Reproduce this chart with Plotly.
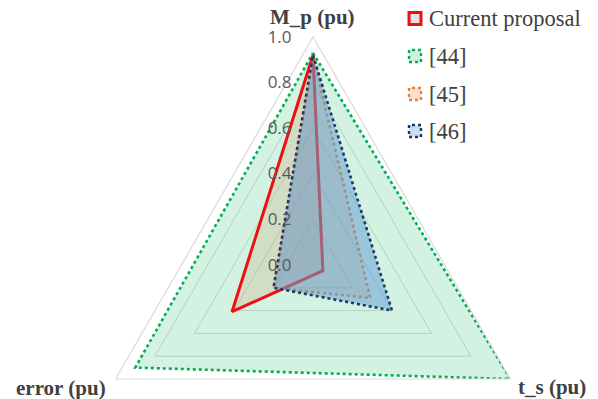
import plotly.graph_objects as go

# Axes of the radar chart (clockwise from the top)
axes = ["M_p (pu)", "t_s (pu)", "error (pu)"]

# Normalised performance of each method on each axis
series_names = ["Current proposal", "[44]", "[45]", "[46]"]
current_proposal = [0.92, 0.05, 0.41]
ref_44 = [0.93, 1.00, 0.90]
ref_45 = [0.92, 0.29, 0.20]
ref_46 = [0.92, 0.40, 0.20]

radial_ticks = [0.0, 0.2, 0.4, 0.6, 0.8, 1.0]

W, H = 598, 520


def xp(x):
    return x / W


def yp(y):
    return 1 - y / H


styles = {
    "Current proposal": dict(color="rgb(238,16,16)", width=3, dash="solid", fill="rgba(205,160,120,0.25)"),
    "[44]": dict(color="#00b050", width=2.6, dash="dot", fill="rgba(0,176,80,0.17)"),
    "[45]": dict(color="#e57e3e", width=2.6, dash="dot", fill="rgba(237,125,49,0.18)"),
    "[46]": dict(color="#1f3864", width=2.6, dash="dot", fill="rgba(91,155,213,0.5)"),
}

values = dict(zip(series_names, [current_proposal, ref_44, ref_45, ref_46]))

# Drawing order: the wide [44] area sits underneath the others
draw_order = ["[44]", "Current proposal", "[45]", "[46]"]

fig = go.Figure()
for name in draw_order:
    vals, st = values[name], styles[name]
    fig.add_trace(
        go.Scatterpolar(
            r=vals + vals[:1],
            theta=axes + axes[:1],
            name=name,
            mode="lines",
            fill="toself",
            fillcolor=st["fill"],
            line=dict(color=st["color"], width=st["width"], dash=st["dash"]),
            showlegend=False,
            hoverinfo="skip",
        )
    )

grid_col = "#d9d9d9"
fig.update_layout(
    width=W,
    height=H,
    margin=dict(l=0, r=0, t=0, b=0),
    paper_bgcolor="white",
    plot_bgcolor="white",
    polar=dict(
        domain=dict(x=[xp(85), xp(541)], y=[yp(493), yp(37)]),
        bgcolor="white",
        gridshape="linear",
        angularaxis=dict(
            type="category",
            categoryarray=axes,
            rotation=90,
            direction="clockwise",
            showticklabels=False,
            ticks="",
            showgrid=False,
            showline=True,
            linecolor=grid_col,
            linewidth=1.2,
        ),
        radialaxis=dict(
            range=[0, 1],
            tickvals=radial_ticks,
            tickformat=".1f",
            tickangle=90,
            angle=90,
            side="counterclockwise",
            showline=False,
            gridcolor=grid_col,
            gridwidth=1.2,
            ticks="outside",
            ticklen=15,
            tickcolor="rgba(0,0,0,0)",
            tickfont=dict(family="Open Sans", size=17, color="#595959"),
        ),
    ),
)

# Axis titles at the triangle corners
label_font = dict(family="Liberation Serif", size=21, color="#404040")
for text, x, y in [("<b>M_p (pu)</b>", 312, 17), ("<b>error (pu)</b>", 61, 388), ("<b>t_s (pu)</b>", 552, 387)]:
    fig.add_annotation(
        text=text, x=xp(x), y=yp(y), xref="paper", yref="paper",
        showarrow=False, xanchor="center", yanchor="middle", font=label_font,
    )

# Legend: outlined swatches with labels
legend_font = dict(family="Liberation Serif", size=22.5, color="#404040")
legend_fill = ["#ebe3e3", "#d3f0de", "#fbe0cc", "#c9dcf0"]
row_y = [18.5, 56, 94, 131]
for name, fcol, y in zip(series_names, legend_fill, row_y):
    st = styles[name]
    fig.add_shape(
        type="rect", xref="paper", yref="paper",
        x0=xp(409), x1=xp(421), y0=yp(y + 6), y1=yp(y - 6),
        fillcolor=fcol,
        line=dict(color=st["color"], width=3 if st["dash"] == "solid" else 2.4, dash=st["dash"]),
    )
    fig.add_annotation(
        text=name, x=xp(427), y=yp(y), xref="paper", yref="paper",
        showarrow=False, xanchor="left", yanchor="middle", font=legend_font,
    )

fig.write_html("out.html")
